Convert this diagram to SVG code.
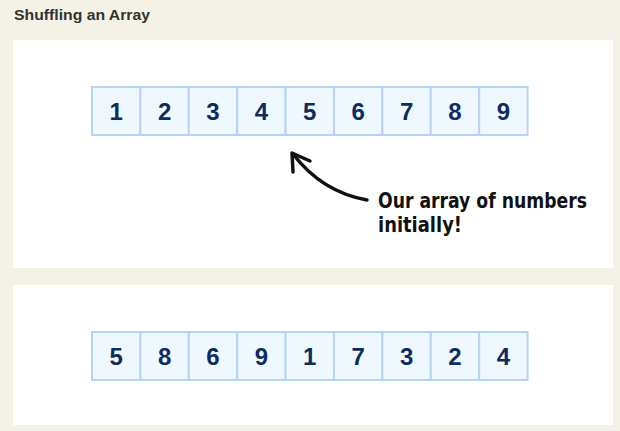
<svg xmlns="http://www.w3.org/2000/svg" width="620" height="431" viewBox="0 0 620 431">
<style>
.cell rect{fill:#eff8ff;stroke:#b4d5f7;stroke-width:2}
.cell text{font-family:"Liberation Sans",Arial,sans-serif;font-weight:bold;font-size:24px;fill:#0f2d5c;text-anchor:middle}
.note{font-family:"DejaVu Sans Condensed","DejaVu Sans",sans-serif;font-weight:bold;font-size:22px;fill:#111}
</style>
<rect width="620" height="431" fill="#f4f1e6"/>
<text x="14" y="20" font-family="Liberation Sans,Arial,sans-serif" font-weight="bold" font-size="15" fill="#333" textLength="136" lengthAdjust="spacingAndGlyphs">Shuffling an Array</text>
<rect x="13" y="40" width="600" height="228" fill="#fff"/>
<rect x="13" y="285" width="600" height="140" fill="#fff"/>
<g id="top-array">
<g class="cell" id="t1"><rect x="92" y="87" width="48.4" height="48"/><text x="116.2" y="120">1</text></g>
<g class="cell" id="t2"><rect x="140.4" y="87" width="48.4" height="48"/><text x="164.6" y="120">2</text></g>
<g class="cell" id="t3"><rect x="188.8" y="87" width="48.4" height="48"/><text x="213" y="120">3</text></g>
<g class="cell" id="t4"><rect x="237.2" y="87" width="48.4" height="48"/><text x="261.4" y="120">4</text></g>
<g class="cell" id="t5"><rect x="285.6" y="87" width="48.4" height="48"/><text x="309.8" y="120">5</text></g>
<g class="cell" id="t6"><rect x="334" y="87" width="48.4" height="48"/><text x="358.2" y="120">6</text></g>
<g class="cell" id="t7"><rect x="382.4" y="87" width="48.4" height="48"/><text x="406.6" y="120">7</text></g>
<g class="cell" id="t8"><rect x="430.8" y="87" width="48.4" height="48"/><text x="455" y="120">8</text></g>
<g class="cell" id="t9"><rect x="479.2" y="87" width="48.4" height="48"/><text x="503.4" y="120">9</text></g>
</g>
<g id="bottom-array">
<g class="cell" id="b1"><rect x="92" y="332" width="48.4" height="48"/><text x="116.2" y="365">5</text></g>
<g class="cell" id="b2"><rect x="140.4" y="332" width="48.4" height="48"/><text x="164.6" y="365">8</text></g>
<g class="cell" id="b3"><rect x="188.8" y="332" width="48.4" height="48"/><text x="213" y="365">6</text></g>
<g class="cell" id="b4"><rect x="237.2" y="332" width="48.4" height="48"/><text x="261.4" y="365">9</text></g>
<g class="cell" id="b5"><rect x="285.6" y="332" width="48.4" height="48"/><text x="309.8" y="365">1</text></g>
<g class="cell" id="b6"><rect x="334" y="332" width="48.4" height="48"/><text x="358.2" y="365">7</text></g>
<g class="cell" id="b7"><rect x="382.4" y="332" width="48.4" height="48"/><text x="406.6" y="365">3</text></g>
<g class="cell" id="b8"><rect x="430.8" y="332" width="48.4" height="48"/><text x="455" y="365">2</text></g>
<g class="cell" id="b9"><rect x="479.2" y="332" width="48.4" height="48"/><text x="503.4" y="365">4</text></g>
</g>
<g id="connectors" fill="none" stroke="#111" stroke-width="3.5" stroke-linecap="round" stroke-linejoin="round">
<path d="M367 200 Q322 192 293 154"/>
<path d="M310 161 L292 153 L293 172"/>
</g>
<g id="note">
<text class="note" x="378" y="208" textLength="209" lengthAdjust="spacingAndGlyphs">Our array of numbers</text>
<text class="note" x="378" y="232" textLength="84" lengthAdjust="spacingAndGlyphs">initially!</text>
</g>
</svg>
